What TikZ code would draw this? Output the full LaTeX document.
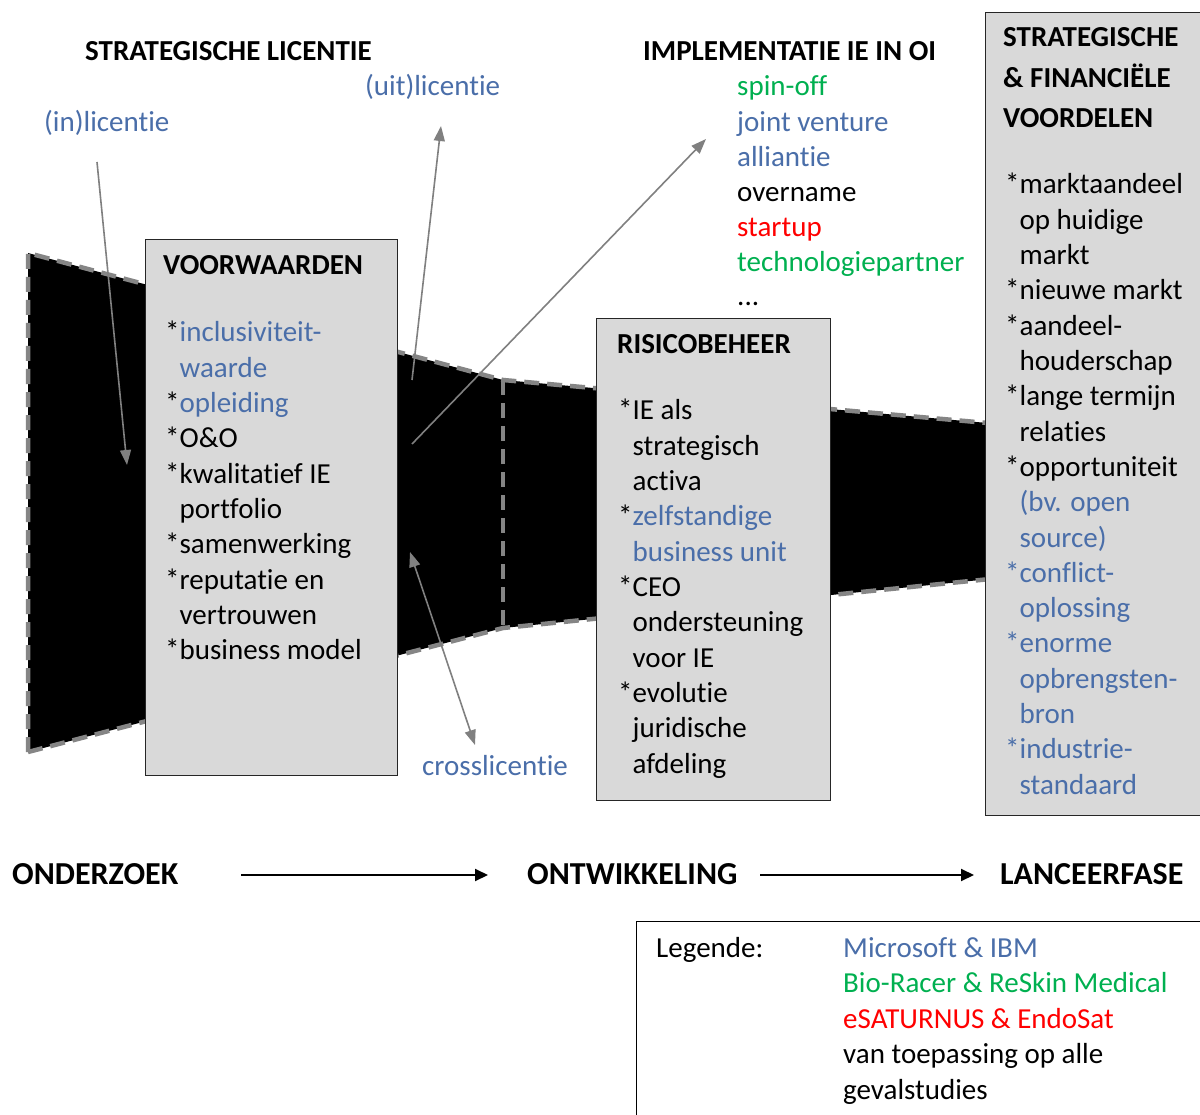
\documentclass[tikz,border=0pt]{standalone}
\usepackage{fontspec}
\setmainfont{Carlito}[RawFeature={-liga}]
\usetikzlibrary{arrows.meta}

\definecolor{accblue}{HTML}{4A6EA9}
\definecolor{accgreen}{HTML}{00B050}
\definecolor{accred}{HTML}{FF0000}
\definecolor{boxgray}{HTML}{D9D9D9}
\definecolor{edgegray}{HTML}{858585}
\definecolor{arrowgray}{HTML}{808080}

\newcommand\bl[1]{\textcolor{accblue}{#1}}
\newcommand\gr[1]{\textcolor{accgreen}{#1}}
\newcommand\rd[1]{\textcolor{accred}{#1}}
\newcommand\ind{\phantom{*}}

\begin{document}
\begin{tikzpicture}[x=1pt,y=-1pt,
  txt/.style={anchor=base west,inner sep=0pt,font=\fontsize{29}{35}\selectfont},
  head/.style={anchor=base west,inner sep=0pt,font=\fontsize{29}{35}\selectfont\bfseries},
  phaselabel/.style={anchor=base west,inner sep=0pt,font=\fontsize{32}{38}\selectfont\bfseries},
  panel/.style={draw=black!85,line width=1.3pt,fill=boxgray,anchor=north west,inner sep=0pt},
  funnelfill/.style={fill=black},
  funneledge/.style={draw=edgegray,line width=4.5pt,dash pattern=on 15pt off 8pt},
  link/.style={draw=arrowgray,line width=1.6pt,-{Triangle[length=15pt,width=11pt]}},
  twolink/.style={draw=arrowgray,line width=1.6pt,{Triangle[length=15pt,width=11pt]}-{Triangle[length=15pt,width=11pt]}},
  phase/.style={draw=black,line width=2pt,-{Triangle[length=13pt,width=12pt]}}]

\useasboundingbox (0,0) rectangle (1200,1115);
\fill[white] (0,0) rectangle (1200,1115);

% ---- funnel: two black trapezoids with dashed grey edges
\fill[funnelfill] (28,253) -- (503,380) -- (503,628) -- (28,752) -- cycle;
\fill[funnelfill] (503,380) -- (1010,425) -- (1010,577) -- (503,628) -- cycle;
\draw[funneledge] (28,752) -- (28,253) -- (503,380) -- (1010,425);
\draw[funneledge] (28,752) -- (503,628) -- (1010,577);
\draw[funneledge] (503,380) -- (503,628);

% ---- grey panels
\node[panel,minimum width=252pt,minimum height=536pt] (voorw) at (145,239) {};
\node[panel,minimum width=234pt,minimum height=482pt] (risico) at (596,318) {};
\node[panel,minimum width=240pt,minimum height=803pt] (voordeel) at (985,12) {};

% ---- headings and labels
\node[head] (hlic) at (85,61) {STRATEGISCHE LICENTIE};
\node[head] (himp) at (643,61) {IMPLEMENTATIE IE IN OI};
\node[txt] (inlic) at (44,132) {\bl{(in)licentie}};
\node[txt] (uitlic) at (365,96) {\bl{(uit)licentie}};
\node[txt] (crosslic) at (422,775) {\bl{crosslicentie}};

% ---- forms of implementation
\foreach \t [count=\i from 0] in {
  {\gr{spin-off}},
  {\bl{joint venture}},
  {\bl{alliantie}},
  {overname},
  {\rd{startup}},
  {\gr{technologiepartner}}}
  \node[txt] (imp\i) at (737,96+35.1*\i) {\t};
\node[txt] (impmore) at (737,306) {...};

% ---- VOORWAARDEN
\node[head] (voorwtitle) at (163,275) {VOORWAARDEN};
\foreach \t [count=\i from 0] in {
  {*\bl{inclusiviteit-}},
  {\ind\bl{waarde}},
  {*\bl{opleiding}},
  {*O\&O},
  {*kwalitatief IE},
  {\ind portfolio},
  {*samenwerking},
  {*reputatie en},
  {\ind vertrouwen},
  {*business model}}
  \node[txt] (vw\i) at (165,342+35.3*\i) {\t};

% ---- RISICOBEHEER
\node[head] (risicotitle) at (617,354) {RISICOBEHEER};
\foreach \t [count=\i from 0] in {
  {*IE als},
  {\ind strategisch},
  {\ind activa},
  {*\bl{zelfstandige}},
  {\ind\bl{business unit}},
  {*CEO},
  {\ind ondersteuning},
  {\ind voor IE},
  {*evolutie},
  {\ind juridische},
  {\ind afdeling}}
  \node[txt] (rb\i) at (618,420+35.3*\i) {\t};

% ---- STRATEGISCHE & FINANCIELE VOORDELEN
\node[head] (vdtitle1) at (1003,47) {STRATEGISCHE};
\node[head] (vdtitle2) at (1003,88) {\& FINANCIËLE};
\node[head] (vdtitle3) at (1003,128) {VOORDELEN};
\foreach \t [count=\i from 0] in {
  {*marktaandeel},
  {\ind op huidige},
  {\ind markt},
  {*nieuwe markt},
  {*aandeel-},
  {\ind houderschap},
  {*lange termijn},
  {\ind relaties},
  {*opportuniteit},
  {\ind\bl{(bv. open}},
  {\ind\bl{source)}},
  {\bl{*conflict-}},
  {\ind\bl{oplossing}},
  {\bl{*enorme}},
  {\ind\bl{opbrengsten-}},
  {\ind\bl{bron}},
  {\bl{*industrie-}},
  {\ind\bl{standaard}}}
  \node[txt] (vd\i) at (1005,194+35.3*\i) {\t};

% ---- licensing arrows
\coordinate (inA) at (97,162);
\coordinate (inB) at (127,465);
\coordinate (uitA) at (412,380);
\coordinate (uitB) at (441,126);
\coordinate (impA) at (412,444);
\coordinate (impB) at (706,139);
\coordinate (crossA) at (410,552);
\coordinate (crossB) at (475,745);
\draw[link] (inA) -- (inB);
\draw[link] (uitA) -- (uitB);
\draw[link] (impA) -- (impB);
\draw[twolink] (crossA) -- (crossB);

% ---- phases
\node[phaselabel] (onderzoek) at (12,884) {ONDERZOEK};
\node[phaselabel] (ontwikkeling) at (527,884) {ONTWIKKELING};
\node[phaselabel] (lancering) at (1000,884) {LANCEERFASE};
\coordinate (ph1a) at (241,875);
\coordinate (ph1b) at (488,875);
\coordinate (ph2a) at (760,875);
\coordinate (ph2b) at (974,875);
\draw[phase] (ph1a) -- (ph1b);
\draw[phase] (ph2a) -- (ph2b);

% ---- legend
\node[draw=black,line width=1.3pt,fill=white,anchor=north west,inner sep=0pt,
      minimum width=600pt,minimum height=250pt] (legend) at (636,921) {};
\node[txt] (legtitle) at (656,957) {Legende:};
\foreach \t [count=\i from 0] in {
  {\bl{Microsoft \& IBM}},
  {\gr{Bio-Racer \& ReSkin Medical}},
  {\rd{eSATURNUS \& EndoSat}},
  {van toepassing op alle},
  {gevalstudies}}
  \node[txt] (leg\i) at (843,957+35.5*\i) {\t};

\end{tikzpicture}
\end{document}
